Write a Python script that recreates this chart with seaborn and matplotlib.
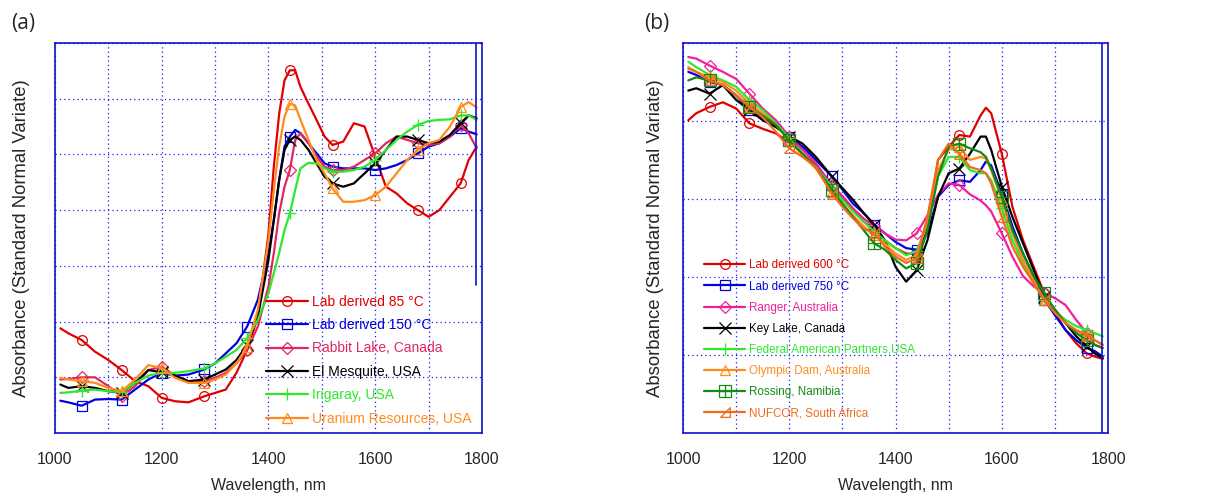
import numpy as np
import matplotlib
matplotlib.use('Agg')
import matplotlib.pyplot as plt
import seaborn as sns
from matplotlib.legend_handler import HandlerTuple

# ---- data, panel (a) (arbitrary SNV grid units, 7 divisions) ----
wl_a = [1010, 1025, 1050, 1075, 1100, 1125, 1150, 1175, 1200, 1225, 1250, 1280, 1300, 1320,
        1340, 1360, 1380, 1400, 1410, 1420, 1430, 1440, 1450, 1460, 1475, 1490, 1505, 1520,
        1540, 1560, 1580, 1600, 1620, 1640, 1660, 1680, 1700, 1720, 1740, 1760, 1775, 1790]

lab85 = [1.88, 1.79, 1.67, 1.46, 1.31, 1.13, 0.93, 0.84, 0.63, 0.57, 0.55, 0.66, 0.72, 0.78,
         1.08, 1.49, 2.09, 3.58, 4.78, 5.73, 6.33, 6.51, 6.51, 6.21, 5.91, 5.62, 5.32, 5.17,
         5.23, 5.56, 5.50, 4.96, 4.42, 4.30, 4.12, 4.00, 3.88, 4.00, 4.24, 4.48, 4.90, 5.14]
lab150 = [0.58, 0.55, 0.49, 0.60, 0.61, 0.60, 0.78, 0.96, 1.08, 1.03, 1.05, 1.14, 1.25, 1.43,
          1.61, 1.91, 2.39, 3.23, 3.82, 4.54, 5.14, 5.32, 5.44, 5.38, 5.20, 5.02, 4.84, 4.78,
          4.75, 4.75, 4.75, 4.72, 4.75, 4.81, 4.90, 5.02, 5.14, 5.20, 5.32, 5.47, 5.41, 5.36]
rabbit = [0.96, 0.97, 1.00, 1.00, 0.84, 0.66, 0.84, 1.13, 1.19, 1.03, 0.93, 0.93, 0.99, 1.08,
          1.25, 1.49, 1.91, 2.63, 3.23, 3.94, 4.42, 4.72, 5.26, 5.38, 5.20, 4.96, 4.78, 4.72,
          4.72, 4.78, 4.90, 5.02, 5.20, 5.32, 5.26, 5.20, 5.17, 5.20, 5.32, 5.53, 5.38, 5.11]
mesquite = [0.87, 0.81, 0.84, 0.81, 0.75, 0.72, 0.90, 1.13, 1.09, 1.03, 0.93, 0.96, 1.05, 1.14,
            1.31, 1.58, 2.09, 3.11, 3.82, 4.54, 5.08, 5.26, 5.32, 5.26, 5.08, 4.84, 4.60, 4.48,
            4.42, 4.48, 4.66, 4.84, 5.08, 5.32, 5.32, 5.26, 5.20, 5.23, 5.35, 5.56, 5.70, 5.65]
irigaray = [0.72, 0.73, 0.76, 0.78, 0.75, 0.73, 0.90, 1.03, 1.08, 1.08, 1.11, 1.16, 1.25, 1.37,
            1.49, 1.70, 2.03, 2.51, 2.87, 3.23, 3.64, 3.94, 4.36, 4.75, 4.85, 4.84, 4.75, 4.69,
            4.69, 4.72, 4.78, 4.90, 5.08, 5.26, 5.41, 5.53, 5.60, 5.62, 5.63, 5.70, 5.70, 5.62]
uranium = [0.99, 0.96, 0.93, 0.90, 0.81, 0.75, 0.96, 1.22, 1.16, 0.99, 0.90, 0.90, 0.96, 1.05,
           1.25, 1.55, 2.21, 3.46, 4.36, 5.14, 5.68, 5.91, 5.88, 5.62, 5.26, 4.90, 4.66, 4.39,
           4.15, 4.15, 4.18, 4.27, 4.42, 4.66, 4.90, 5.08, 5.20, 5.26, 5.50, 5.85, 5.94, 5.84]

# ---- data, panel (b) (5 divisions) ----
wl_b = [1010, 1025, 1050, 1075, 1100, 1125, 1150, 1175, 1200, 1225, 1250, 1280, 1300, 1320,
        1340, 1360, 1380, 1400, 1420, 1440, 1460, 1480, 1500, 1520, 1540, 1560, 1570, 1580,
        1600, 1620, 1640, 1660, 1680, 1700, 1720, 1740, 1760, 1775, 1790]

lab600 = [4.01, 4.10, 4.18, 4.24, 4.16, 3.97, 3.90, 3.84, 3.73, 3.58, 3.43, 3.16, 3.01, 2.86,
          2.71, 2.60, 2.47, 2.37, 2.30, 2.30, 2.65, 3.50, 3.67, 3.82, 3.80, 4.07, 4.17, 4.10,
          3.58, 2.90, 2.47, 2.13, 1.79, 1.54, 1.32, 1.15, 1.02, 0.98, 0.95]
lab750 = [4.63, 4.59, 4.50, 4.46, 4.33, 4.14, 4.05, 3.95, 3.80, 3.67, 3.50, 3.29, 3.12, 2.94,
          2.82, 2.67, 2.56, 2.45, 2.37, 2.35, 2.56, 3.03, 3.18, 3.24, 3.22, 3.37, 3.48, 3.43,
          3.07, 2.65, 2.30, 2.01, 1.71, 1.51, 1.32, 1.19, 1.09, 1.05, 0.98]
ranger = [4.82, 4.80, 4.71, 4.63, 4.54, 4.35, 4.16, 4.01, 3.80, 3.63, 3.46, 3.18, 3.04, 2.88,
          2.75, 2.65, 2.56, 2.48, 2.47, 2.56, 2.79, 3.05, 3.20, 3.18, 3.06, 2.98, 2.92, 2.84,
          2.56, 2.26, 2.01, 1.88, 1.79, 1.73, 1.64, 1.45, 1.28, 1.13, 1.09]
keylake = [4.39, 4.42, 4.35, 4.46, 4.27, 4.14, 4.01, 3.92, 3.80, 3.71, 3.54, 3.29, 3.14, 2.99,
           2.82, 2.67, 2.47, 2.13, 1.94, 2.09, 2.47, 3.03, 3.33, 3.39, 3.58, 3.80, 3.80, 3.63,
           3.16, 2.77, 2.43, 2.09, 1.75, 1.58, 1.41, 1.24, 1.11, 1.02, 0.96]
federal = [4.76, 4.69, 4.59, 4.52, 4.44, 4.27, 4.14, 3.97, 3.78, 3.58, 3.41, 3.16, 2.99, 2.84,
           2.71, 2.58, 2.47, 2.37, 2.28, 2.33, 2.69, 3.29, 3.54, 3.54, 3.37, 3.33, 3.33, 3.24,
           2.88, 2.47, 2.18, 1.92, 1.71, 1.56, 1.45, 1.37, 1.32, 1.28, 1.24]
olympic = [4.69, 4.63, 4.56, 4.50, 4.39, 4.22, 4.10, 3.95, 3.75, 3.56, 3.39, 3.09, 2.94, 2.79,
           2.65, 2.54, 2.43, 2.30, 2.22, 2.28, 2.73, 3.37, 3.63, 3.67, 3.50, 3.54, 3.52, 3.37,
           2.99, 2.56, 2.22, 1.96, 1.71, 1.54, 1.41, 1.30, 1.24, 1.19, 1.13]
rossing = [4.52, 4.56, 4.52, 4.46, 4.33, 4.18, 4.07, 3.95, 3.75, 3.58, 3.41, 3.12, 2.94, 2.77,
           2.60, 2.43, 2.35, 2.22, 2.11, 2.18, 2.60, 3.29, 3.67, 3.71, 3.65, 3.60, 3.54, 3.39,
           3.03, 2.60, 2.30, 2.01, 1.79, 1.58, 1.41, 1.28, 1.19, 1.13, 1.09]
nufcor = [4.67, 4.63, 4.52, 4.46, 4.33, 4.18, 4.05, 3.86, 3.65, 3.54, 3.41, 3.07, 2.90, 2.75,
          2.62, 2.56, 2.39, 2.26, 2.18, 2.24, 2.77, 3.50, 3.71, 3.58, 3.41, 3.37, 3.33, 3.20,
          2.77, 2.39, 2.13, 1.92, 1.71, 1.54, 1.41, 1.32, 1.26, 1.19, 1.13]

marker_wl = [1050, 1125, 1200, 1280, 1360, 1440, 1520, 1600, 1680, 1760]

labels_a = ['Lab derived 85 °C', 'Lab derived 150 °C', 'Rabbit Lake, Canada',
            'El Mesquite, USA', 'Irigaray, USA', 'Uranium Resources, USA']
labels_b = ['Lab derived 600 °C', 'Lab derived 750 °C', 'Ranger, Australia', 'Key Lake, Canada',
            'Federal American Partners,USA', 'Olympic Dam, Australia', 'Rossing, Namibia',
            'NUFCOR, South Africa']

RED = '#e00000'
BLUE = '#0000e0'
BLACK = '#000000'
LIME = '#2ee82e'
ORANGE = '#ff8c1a'
CRIMSON = '#e0285f'
PINK = '#f0209a'
DKGREEN = '#148a14'
ORANGERED = '#f26a1b'
half_tri = [(-1, -1), (1, -1), (1, 1), (-1, -1)]

sns.set_style('white')
plt.rcParams['font.family'] = ['Liberation Sans', 'DejaVu Sans']

fig = plt.figure(figsize=(12.19, 5.01), dpi=100)
ax_a = fig.add_axes([0.0451, 0.1357, 0.3503, 0.7785])
ax_b = fig.add_axes([0.5603, 0.1357, 0.3487, 0.7785])


def draw(ax, wl, y, color, marker, label, **kw):
    idx = [wl.index(m) for m in marker_wl]
    sns.lineplot(x=wl, y=y, ax=ax, color=color, lw=1.6, marker=marker, markevery=idx,
                 markersize=kw.get('ms', 7), mfc='none', mec=color, mew=0.9,
                 label=label, estimator=None, sort=False)
    return ax.lines[-1]


def style(ax, ndiv):
    ax.set_xlim(1000, 1800)
    ax.set_ylim(0, ndiv)
    ax.set_xticks([1000, 1100, 1200, 1300, 1400, 1500, 1600, 1700, 1800])
    ax.set_xticklabels(['1000', '', '1200', '', '1400', '', '1600', '', '1800'])
    ax.set_yticks(range(ndiv + 1))
    ax.set_yticklabels([])
    ax.tick_params(axis='both', length=0, labelsize=11.5, pad=14)
    ax.grid(True, color='#1a1aff', ls=(0, (1, 2.5)), lw=0.9)
    for s in ax.spines.values():
        s.set_color('#1010d0')
        s.set_linewidth(1.2)
    ax.set_xlabel('Wavelength, nm', fontsize=11.5)
    ax.set_ylabel('Absorbance (Standard Normal Variate)', fontsize=13.3)


# panel (a)
ha = []
ha.append(draw(ax_a, wl_a, lab85, RED, 'o', labels_a[0]))
ha.append(draw(ax_a, wl_a, lab150, BLUE, 's', labels_a[1]))
ha.append(draw(ax_a, wl_a, rabbit, CRIMSON, 'D', labels_a[2], ms=6))
ha.append(draw(ax_a, wl_a, mesquite, BLACK, 'x', labels_a[3], ms=8))
ha.append(draw(ax_a, wl_a, irigaray, LIME, '+', labels_a[4], ms=9))
ha.append(draw(ax_a, wl_a, uranium, ORANGE, '^', labels_a[5]))
ax_a.axvline(1788, ymin=0.38, ymax=1, color='#1010d0', lw=1.2)
style(ax_a, 7)
ax_a.yaxis.set_label_coords(-0.058, 0.5)
ax_a.xaxis.set_label_coords(0.5, -0.115)
ax_a.legend(ha, labels_a, loc='upper left', bbox_to_anchor=(0.495, 0.355), frameon=False,
            fontsize=10, labelcolor='linecolor', handlelength=3.0, handletextpad=0.3,
            labelspacing=0.68, borderpad=0, borderaxespad=0, numpoints=1)

# panel (b)
hb = []
hb.append(draw(ax_b, wl_b, lab600, RED, 'o', labels_b[0]))
hb.append(draw(ax_b, wl_b, lab750, BLUE, 's', labels_b[1]))
hb.append(draw(ax_b, wl_b, ranger, PINK, 'D', labels_b[2], ms=6))
hb.append(draw(ax_b, wl_b, keylake, BLACK, 'x', labels_b[3], ms=8))
hb.append(draw(ax_b, wl_b, federal, LIME, '+', labels_b[4], ms=9))
hb.append(draw(ax_b, wl_b, olympic, ORANGE, '^', labels_b[5]))
ros = draw(ax_b, wl_b, rossing, DKGREEN, 's', labels_b[6], ms=8)
idx_b = [wl_b.index(m) for m in marker_wl]
ros_plus = ax_b.plot([wl_b[i] for i in idx_b], [rossing[i] for i in idx_b], ls='none',
                     marker='+', ms=8, mew=0.9, color=DKGREEN)[0]
hb.append((ros, ros_plus))
hb.append(draw(ax_b, wl_b, nufcor, ORANGERED, half_tri, labels_b[7], ms=7))
ax_b.axvline(1788, color='#1010d0', lw=1.2)
style(ax_b, 5)
ax_b.yaxis.set_label_coords(-0.045, 0.5)
ax_b.xaxis.set_label_coords(0.5, -0.115)
leg = ax_b.legend(hb, labels_b, loc='upper left', bbox_to_anchor=(0.05, 0.445), frameon=False,
                  fontsize=8.4, handlelength=3.5, handletextpad=0.3,
                  labelspacing=0.78, borderpad=0, borderaxespad=0, numpoints=1,
                  handler_map={tuple: HandlerTuple(ndivide=1)})
for txt, col in zip(leg.get_texts(), [RED, BLUE, PINK, BLACK, LIME, ORANGE, DKGREEN, ORANGERED]):
    txt.set_color(col)

fig.text(0.009, 0.975, '(a)', fontsize=15, va='top', family=['Open Sans', 'DejaVu Sans'])
fig.text(0.528, 0.975, '(b)', fontsize=15, va='top', family=['Open Sans', 'DejaVu Sans'])

fig.savefig('out.png', dpi=100)
